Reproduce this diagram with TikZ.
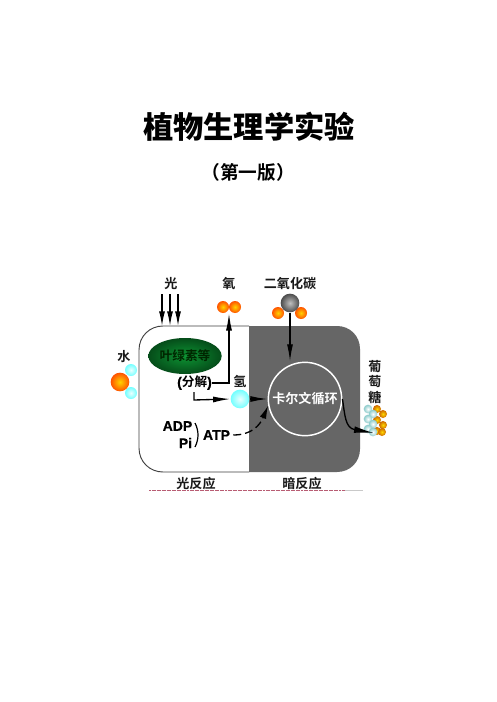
\documentclass[tikz,border=0pt]{standalone}
\usepackage{fontspec}
\setmainfont{Liberation Sans}
\newfontfamily\cjk{Noto Sans CJK SC}[BoldFont={* Bold}]
\newfontfamily\cjkheavy{Noto Sans CJK SC Black}
\newfontfamily\latinheavy{Liberation Sans Bold}[FakeBold=0.5]
\usetikzlibrary{arrows.meta,shadings,shapes.geometric}
\definecolor{leafcore}{rgb}{0.05,0.58,0.20}
\definecolor{leafrim}{rgb}{0.02,0.30,0.10}
\definecolor{stripink}{rgb}{0.72,0.36,0.45}
\tikzset{
  x=0.75pt,y=-0.75pt,
  label text/.style={font=\cjk\bfseries\fontsize{9.8}{10}\selectfont,inner sep=0pt,text=black!90},
  latin text/.style={font=\latinheavy\fontsize{10.5}{11}\selectfont,inner sep=0pt,text=black},
  flow/.style={draw=black,line width=1pt,-{Latex[length=11pt,width=4.5pt]}},
  orange ball/.style={circle,inner sep=0pt,draw=none,inner color=yellow!65!orange,outer color=orange!65!red},
  cyan ball/.style={circle,inner sep=0pt,draw=none,inner color=cyan!8,outer color=cyan!55},
  grey ball/.style={circle,inner sep=0pt,draw=none,inner color=black!25,outer color=black!70},
  sugar orange/.style={circle,minimum size=6pt,inner sep=0pt,inner color=yellow!70!orange,outer color=orange!80!black},
  sugar grey/.style={circle,minimum size=6.5pt,inner sep=0pt,inner color=white,outer color=black!45!cyan!45}
}
\begin{document}
\begin{tikzpicture}
\useasboundingbox (0,0) rectangle (496,702);
\fill[white] (0,0) rectangle (496,702);

% Title block
\node[font=\cjkheavy\fontsize{22.7}{23}\selectfont,inner sep=0pt] (title) at (249,127) {植物生理学实验};
\node[font=\cjk\bfseries\fontsize{14}{14}\selectfont,inner sep=0pt] (edition) at (248,172) {（第一版）};

% Cell: light-reaction half and dark-reaction half
\draw[black!75,line width=0.7pt,fill=white]
  (249,326) -- (163,326) .. controls (150,326) and (139,336) .. (139,350)
  -- (139,448) .. controls (139,462) and (150,472) .. (163,472) -- (249,472);
\fill[black!60]
  (249,326) -- (337,326) .. controls (350,326) and (360,336) .. (360,349)
  -- (360,449) .. controls (360,462) and (350,472) .. (337,472) -- (249,472) -- cycle;

% Chloroplast
\node[ellipse,minimum width=55pt,minimum height=27pt,inner sep=0pt,draw=none,
  inner color=leafcore,outer color=leafrim,
  font=\cjk\bfseries\fontsize{9.5}{10}\selectfont,text=black!85!green] (chloro) at (185,356) {叶绿素等};

% Calvin cycle
\node[circle,draw=white,line width=1.1pt,minimum size=55pt,inner sep=0pt,
  font=\cjk\bfseries\fontsize{9.8}{10}\selectfont,text=white] (calvin) at (305,399) {卡尔文循环};

% Top labels and inputs
\node[label text] (light) at (171,284) {光};
\node[label text] (oxygen) at (229,284) {氧};
\node[label text] (co2) at (290,284) {二氧化碳};
\coordinate (l1t) at (162,294); \coordinate (l1b) at (162,326);
\coordinate (l2t) at (170,294); \coordinate (l2b) at (170,326);
\coordinate (l3t) at (178,294); \coordinate (l3b) at (178,326);
\draw[flow] (l1t) -- (l1b);
\draw[flow] (l2t) -- (l2b);
\draw[flow] (l3t) -- (l3b);

% Oxygen molecule
\node[orange ball,minimum size=9pt] (o1) at (223,307) {};
\node[orange ball,minimum size=9pt] (o2) at (235,307) {};

% Carbon dioxide molecule
\node[orange ball,minimum size=9pt] (c1) at (278,313) {};
\node[orange ball,minimum size=9pt] (c2) at (301,313) {};
\node[grey ball,minimum size=14pt] (c0) at (290,303) {};

% Water molecule
\node[label text] (water) at (124,357) {水};
\node[cyan ball,minimum size=9pt] (h1) at (131,370) {};
\node[cyan ball,minimum size=9pt] (h2) at (131,393) {};
\node[orange ball,minimum size=14pt] (wo) at (120,382) {};

% Splitting of water
\node[latin text] (split) at (194.5,383) {({\cjk\bfseries\fontsize{9.5}{10}\selectfont 分解})};
\node[label text] (hydrogen) at (240,381) {氢};
\node[cyan ball,minimum size=14pt] (hball) at (240,399) {};
\coordinate (bend) at (229,383);
\coordinate (startH) at (194,392);
\coordinate (cornerH) at (194,400);
\draw[flow,-{Latex[length=13pt,width=4.5pt]}] (split.east) -- (bend) -- (bend |- o1.south);
\draw[flow,-{Latex[length=13pt,width=4.5pt]}] (startH) -- (cornerH) -- (hball.west);

% Phosphorylation
\node[latin text] (adp) at (177.5,426) {ADP};
\node[latin text] (pi) at (185.5,443) {Pi};
\node[latin text] (atp) at (216.5,435) {ATP};
\coordinate (brT) at (195,423);
\coordinate (brB) at (195,447);
\draw[black,line width=0.9pt] (brT) .. controls (199,431) and (199,439) .. (brB);
\draw[flow,dash pattern=on 6pt off 3pt,-{Latex[length=10pt,width=5pt]}]
  (atp.east) ++(3,0) .. controls (252,435) and (260,425) .. (calvin.190);

% Inputs to the Calvin cycle
\draw[flow,-{Latex[length=13pt,width=4.5pt]}] (c0.south) -- (c0.south |- calvin.north);
\draw[flow,-{Latex[length=13pt,width=4.5pt]}] (hball.east) -- (calvin.west);

% Glucose label and cluster
\node[label text] (g1) at (375,367) {葡};
\node[label text] (g2) at (375,382) {萄};
\node[label text] (g3) at (375,397) {糖};
\foreach \n/\x/\y in {a/377/409,b/383/414,c/377/420,d/383/425,e/377/431,f/382/432}{
  \node[sugar orange] (s\n) at (\x,\y) {};
}
\foreach \n/\x/\y in {g/368/409,h/373/414,i/368/419,j/373/424,k/368/429,l/373/432}{
  \node[sugar grey] (s\n) at (\x,\y) {};
}
\coordinate (glucoseIn) at (374,433);
\draw[flow,-{Latex[length=15pt,width=5pt]}] (calvin.east) .. controls (345,415) and (345,428) .. (glucoseIn);

% Bottom labels
\node[label text] (lightrx) at (196,484) {光反应};
\node[label text] (darkrx) at (302,484) {暗反应};

% Source-address strip under the cell
\coordinate (stripL) at (149,490.5);
\coordinate (stripM) at (345,490.5);
\coordinate (stripR) at (363,490.5);
\draw[stripink,line width=1.3pt,dash pattern=on 1.5pt off 0.4pt] (stripL) -- (stripM);
\draw[black!35,line width=1.3pt,opacity=.6] (stripM) -- (stripR);
\end{tikzpicture}
\end{document}
